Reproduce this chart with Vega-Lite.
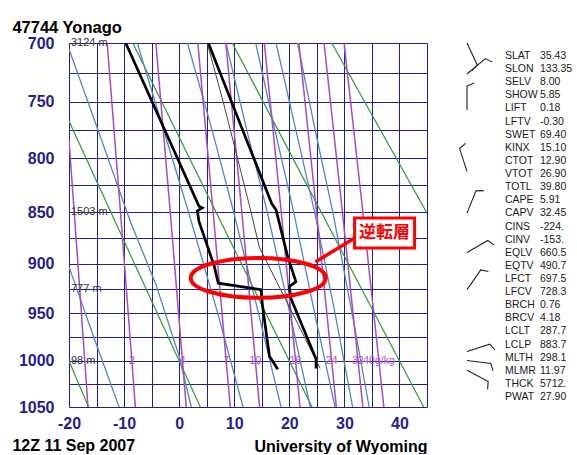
{
  "$schema": "https://vega.github.io/schema/vega-lite/v6.json",
  "background": "white",
  "padding": {"left": 12, "top": 19, "right": 0, "bottom": 0},
  "title": {"text": "47744 Yonago", "anchor": "start", "frame": "bounds", "fontSize": 16.5, "fontWeight": "bold", "color": "#000000", "font": "Liberation Sans", "offset": -1},
  "spacing": 40,
  "bounds": "flush",
  "datasets": {
    "mr": [
      {"id": "w1", "t": -20, "p": 783.4}, {"id": "w1", "t": -18.38, "p": 900}, {"id": "w1", "t": -16.55, "p": 1050},
      {"id": "w2", "t": -13.07, "p": 700}, {"id": "w2", "t": -10.65, "p": 850}, {"id": "w2", "t": -7.95, "p": 1050},
      {"id": "w4", "t": -4.23, "p": 700}, {"id": "w4", "t": -1.62, "p": 850}, {"id": "w4", "t": 1.29, "p": 1050},
      {"id": "w7", "t": 3.39, "p": 700}, {"id": "w7", "t": 6.17, "p": 850}, {"id": "w7", "t": 9.28, "p": 1050},
      {"id": "w10", "t": 8.47, "p": 700}, {"id": "w10", "t": 11.38, "p": 850}, {"id": "w10", "t": 14.6, "p": 1050},
      {"id": "w16", "t": 15.46, "p": 700}, {"id": "w16", "t": 18.53, "p": 850}, {"id": "w16", "t": 21.94, "p": 1050},
      {"id": "w24", "t": 21.73, "p": 700}, {"id": "w24", "t": 24.95, "p": 850}, {"id": "w24", "t": 28.54, "p": 1050},
      {"id": "w32", "t": 26.31, "p": 700}, {"id": "w32", "t": 29.64, "p": 850}, {"id": "w32", "t": 33.36, "p": 1050},
      {"id": "w40", "t": 29.94, "p": 700}, {"id": "w40", "t": 33.35, "p": 850}, {"id": "w40", "t": 37.17, "p": 1050}
    ],
    "dry": [
      {"id": "d-20", "t": -20, "p": 1000}, {"id": "d-20", "t": -16.45, "p": 1050},
      {"id": "d0", "t": -20, "p": 766.6}, {"id": "d0", "t": 3.84, "p": 1050},
      {"id": "d20", "t": -8.42, "p": 700}, {"id": "d20", "t": 24.12, "p": 1050},
      {"id": "d40", "t": 9.64, "p": 700}, {"id": "d40", "t": 44.4, "p": 1050},
      {"id": "d60", "t": 27.7, "p": 700}, {"id": "d60", "t": 45, "p": 851.2}
    ],
    "moist": [
      {"id": "m260", "t": -20, "p": 903}, {"id": "m260", "t": -15.5, "p": 975}, {"id": "m260", "t": -10.9, "p": 1050},
      {"id": "m280", "t": -20, "p": 705}, {"id": "m280", "t": -15.0, "p": 771}, {"id": "m280", "t": -8.8, "p": 860}, {"id": "m280", "t": -4.2, "p": 921}, {"id": "m280", "t": 0, "p": 995}, {"id": "m280", "t": 2.2, "p": 1050},
      {"id": "m300", "t": -7.6, "p": 700}, {"id": "m300", "t": -2.8, "p": 775}, {"id": "m300", "t": 1.7, "p": 850}, {"id": "m300", "t": 7.0, "p": 950}, {"id": "m300", "t": 11.6, "p": 1050},
      {"id": "m320", "t": 1.5, "p": 700}, {"id": "m320", "t": 6.0, "p": 775}, {"id": "m320", "t": 9.9, "p": 850}, {"id": "m320", "t": 14.4, "p": 950}, {"id": "m320", "t": 18.5, "p": 1050},
      {"id": "m340", "t": 8.5, "p": 700}, {"id": "m340", "t": 12.3, "p": 775}, {"id": "m340", "t": 16.0, "p": 850}, {"id": "m340", "t": 20.1, "p": 950}, {"id": "m340", "t": 23.8, "p": 1050},
      {"id": "m360", "t": 13.9, "p": 700}, {"id": "m360", "t": 17.4, "p": 775}, {"id": "m360", "t": 20.8, "p": 850}, {"id": "m360", "t": 24.6, "p": 950}, {"id": "m360", "t": 28.3, "p": 1050},
      {"id": "m380", "t": 17.6, "p": 700}, {"id": "m380", "t": 21.2, "p": 775}, {"id": "m380", "t": 24.6, "p": 850}, {"id": "m380", "t": 28.3, "p": 950}, {"id": "m380", "t": 31.5, "p": 1050},
      {"id": "m400", "t": 21.5, "p": 700}, {"id": "m400", "t": 24.7, "p": 775}, {"id": "m400", "t": 27.9, "p": 850}, {"id": "m400", "t": 31.4, "p": 950}, {"id": "m400", "t": 34.5, "p": 1050}
    ],
    "temp": [
      {"t": 5.3, "p": 700}, {"t": 16.8, "p": 842}, {"t": 17.6, "p": 848}, {"t": 19.7, "p": 893}, {"t": 21.2, "p": 918},
      {"t": 20.0, "p": 923}, {"t": 20.3, "p": 935}, {"t": 24.85, "p": 998}, {"t": 24.85, "p": 1008}
    ],
    "dew": [
      {"t": -9.7, "p": 700}, {"t": 3.6, "p": 844.5}, {"t": 4.2, "p": 846}, {"t": 3.3, "p": 849}, {"t": 3.6, "p": 859},
      {"t": 6.4, "p": 903}, {"t": 7.1, "p": 919.5}, {"t": 14.85, "p": 926}, {"t": 15.15, "p": 943}, {"t": 16.4, "p": 995}, {"t": 17.9, "p": 1009}
    ],
    "parcel": [
      {"t": 5.1, "p": 700}, {"t": 8.0, "p": 750}, {"t": 10.6, "p": 800}, {"t": 13.05, "p": 850}, {"t": 14.55, "p": 883.7}, {"t": 25.6, "p": 1008}
    ],
    "heights": [
      {"t": -20, "p": 700, "label": "3124 m"}, {"t": -20, "p": 850, "label": "1503 m"},
      {"t": -20, "p": 925, "label": "777 m"}, {"t": -20, "p": 1000, "label": "98 m"}
    ],
    "mrlabels": [
      {"t": -8.58, "p": 1000, "label": "2"}, {"t": 0.62, "p": 1000, "label": "4"}, {"t": 8.55, "p": 1000, "label": "7"},
      {"t": 13.85, "p": 1000, "label": "10"}, {"t": 21.08, "p": 1000, "label": "16"}, {"t": 27.7, "p": 1000, "label": "24"},
      {"t": 32.49, "p": 1000, "label": "32"}, {"t": 36.28, "p": 1000, "label": "40g/kg"}
    ],
    "ellipse": [{"t": 14.36, "p": 914.2}],
    "callout": [{"t": 24.73, "p": 898.3, "t2": 32.18, "p2": 874.0}],
    "box": [{"t": 37.3, "p": 870.1, "label": "逆転層"}],
    "barbs": [
      {"p": 700, "dir": 155}, {"p": 726, "dir": 50}, {"p": 757, "dir": 0}, {"p": 812, "dir": 342},
      {"p": 851, "dir": 22}, {"p": 889, "dir": 60}, {"p": 926, "dir": 35}, {"p": 990, "dir": 72},
      {"p": 999.5, "dir": 97}, {"p": 1010, "dir": 118}
    ],
    "stats": [
      {"i": 0, "k": "SLAT", "v": "35.43"}, {"i": 1, "k": "SLON", "v": "133.35"}, {"i": 2, "k": "SELV", "v": "8.00"},
      {"i": 3, "k": "SHOW", "v": "5.85"}, {"i": 4, "k": "LIFT", "v": "0.18"}, {"i": 5, "k": "LFTV", "v": "-0.30"},
      {"i": 6, "k": "SWET", "v": "69.40"}, {"i": 7, "k": "KINX", "v": "15.10"}, {"i": 8, "k": "CTOT", "v": "12.90"},
      {"i": 9, "k": "VTOT", "v": "26.90"}, {"i": 10, "k": "TOTL", "v": "39.80"}, {"i": 11, "k": "CAPE", "v": "5.91"},
      {"i": 12, "k": "CAPV", "v": "32.45"}, {"i": 13, "k": "CINS", "v": "-224."}, {"i": 14, "k": "CINV", "v": "-153."},
      {"i": 15, "k": "EQLV", "v": "660.5"}, {"i": 16, "k": "EQTV", "v": "490.7"}, {"i": 17, "k": "LFCT", "v": "697.5"},
      {"i": 18, "k": "LFCV", "v": "728.3"}, {"i": 19, "k": "BRCH", "v": "0.76"}, {"i": 20, "k": "BRCV", "v": "4.18"},
      {"i": 21, "k": "LCLT", "v": "287.7"}, {"i": 22, "k": "LCLP", "v": "883.7"}, {"i": 23, "k": "MLTH", "v": "298.1"},
      {"i": 24, "k": "MLMR", "v": "11.97"}, {"i": 25, "k": "THCK", "v": "5712."}, {"i": 26, "k": "PWAT", "v": "27.90"}
    ]
  },
  "hconcat": [
    {
      "width": 358,
      "height": 364,
      "title": {"text": "12Z 11 Sep 2007", "orient": "bottom", "anchor": "start", "frame": "bounds", "offset": -16, "dx": -6, "fontSize": 16, "fontWeight": "bold", "color": "#000000", "font": "Liberation Sans"},
      "encoding": {
        "x": {
          "field": "t", "type": "quantitative",
          "scale": {"domain": [-20, 45], "nice": false, "zero": false},
          "axis": {
            "values": [-20, -15, -10, -5, 0, 5, 10, 15, 20, 25, 30, 35, 40, 45],
            "labelExpr": "datum.value % 10 == 0 ? '' + datum.value : ''",
            "labelPadding": 8, "labelFlush": false, "labelOverlap": false,
            "title": "University of Wyoming", "titleAnchor": "end", "titlePadding": 7,
            "titleFontSize": 16, "titleFontWeight": "bold", "titleColor": "#000000", "titleFont": "Liberation Sans"
          }
        },
        "y": {
          "field": "p", "type": "quantitative",
          "scale": {"type": "pow", "exponent": 0.286, "domain": [700, 1050], "reverse": true, "nice": false, "zero": false},
          "axis": {
            "values": [700, 725, 750, 775, 800, 825, 850, 875, 900, 925, 950, 975, 1000, 1025, 1050],
            "labelExpr": "datum.value % 50 == 0 ? '' + datum.value : ''",
            "labelPadding": 15, "labelOverlap": false, "title": null
          }
        }
      },
      "layer": [
        {"data": {"name": "dry"}, "mark": {"type": "line", "color": "#2f9a2f", "strokeWidth": 1.2, "clip": true},
         "encoding": {"detail": {"field": "id"}, "order": {"field": "p"}}},
        {"data": {"name": "moist"}, "mark": {"type": "line", "color": "#5585c0", "strokeWidth": 1.3, "clip": true},
         "encoding": {"detail": {"field": "id"}, "order": {"field": "p"}}},
        {"data": {"name": "mr"}, "mark": {"type": "line", "color": "#a64bbd", "strokeWidth": 1.5, "clip": true},
         "encoding": {"detail": {"field": "id"}, "order": {"field": "p"}}},
        {"data": {"name": "heights"}, "mark": {"type": "text", "align": "left", "baseline": "middle", "dx": 2, "fontSize": 11, "color": "#333333"},
         "encoding": {"text": {"field": "label"}}},
        {"data": {"name": "mrlabels"}, "mark": {"type": "text", "align": "center", "baseline": "middle", "fontSize": 10.5, "color": "#b050c0"},
         "encoding": {"text": {"field": "label"}}},
        {"data": {"name": "parcel"}, "mark": {"type": "line", "color": "#444444", "strokeWidth": 1, "clip": true},
         "encoding": {"order": {"field": "p"}}},
        {"data": {"name": "temp"}, "mark": {"type": "line", "color": "#000000", "strokeWidth": 2.7, "clip": true},
         "encoding": {"order": {"field": "p"}}},
        {"data": {"name": "dew"}, "mark": {"type": "line", "color": "#000000", "strokeWidth": 2.7, "clip": true},
         "encoding": {"order": {"field": "p"}}},
        {"data": {"name": "ellipse"}, "mark": {"type": "point", "shape": "M-1,0C-1,-0.164 -0.552,-0.296 0,-0.296C0.552,-0.296 1,-0.164 1,0C1,0.164 0.552,0.296 0,0.296C-0.552,0.296 -1,0.164 -1,0Z", "size": 18225, "filled": false, "stroke": "#ff0000", "strokeWidth": 4, "opacity": 1}},
        {"data": {"name": "callout"}, "mark": {"type": "rule", "color": "#ff0000", "strokeWidth": 3.5},
         "encoding": {"x2": {"field": "t2"}, "y2": {"field": "p2"}}},
        {"data": {"name": "box"}, "mark": {"type": "point", "shape": "M-1,-0.5L1,-0.5L1,0.5L-1,0.5Z", "size": 3600, "filled": true, "fill": "#ffffff", "stroke": "#ff0000", "strokeWidth": 3, "opacity": 1}},
        {"data": {"name": "box"}, "mark": {"type": "text", "font": "Noto Sans CJK JP", "fontWeight": "bold", "fontSize": 17, "color": "#ff0000", "align": "center", "baseline": "middle"},
         "encoding": {"text": {"field": "label"}}}
      ]
    },
    {
      "width": 105,
      "height": 364,
      "layer": [
        {"data": {"name": "barbs"},
         "mark": {"type": "point", "shape": "M0,0L0,-1L0.3,-1.13", "size": 2304, "filled": false, "stroke": "#222222", "strokeWidth": 1.1, "opacity": 1},
         "encoding": {
           "x": {"datum": 0, "type": "quantitative", "scale": {"domain": [0, 3], "nice": false, "zero": false}, "axis": null},
           "y": {"field": "p", "type": "quantitative", "scale": {"type": "pow", "exponent": 0.286, "domain": [700, 1050], "reverse": true, "nice": false, "zero": false}, "axis": null},
           "angle": {"field": "dir", "type": "quantitative", "scale": null}
         }},
        {"data": {"name": "stats"},
         "mark": {"type": "text", "align": "left", "baseline": "middle", "dx": 3, "fontSize": 10.5, "color": "#1a1a1a"},
         "encoding": {
           "x": {"datum": 1, "type": "quantitative"},
           "y": {"field": "i", "type": "quantitative", "scale": {"domain": [-0.99, 26.76], "reverse": true, "nice": false, "zero": false}, "axis": null},
           "text": {"field": "k"}
         }},
        {"data": {"name": "stats"},
         "mark": {"type": "text", "align": "left", "baseline": "middle", "dx": 3, "fontSize": 10.5, "color": "#1a1a1a"},
         "encoding": {
           "x": {"datum": 2, "type": "quantitative"},
           "y": {"field": "i", "type": "quantitative", "scale": {"domain": [-0.99, 26.76], "reverse": true, "nice": false, "zero": false}, "axis": null},
           "text": {"field": "v"}
         }}
      ],
      "resolve": {"scale": {"y": "independent"}}
    }
  ],
  "config": {
    "font": "Liberation Sans",
    "view": {"stroke": null},
    "axis": {
      "domain": false, "ticks": false, "tickSize": 0, "grid": true,
      "gridColor": "#1f1f8f", "gridOpacity": 1, "gridWidth": 1,
      "labelColor": "#1f1f8f", "labelFont": "Liberation Sans", "labelFontSize": 16, "labelFontWeight": "bold"
    }
  }
}
